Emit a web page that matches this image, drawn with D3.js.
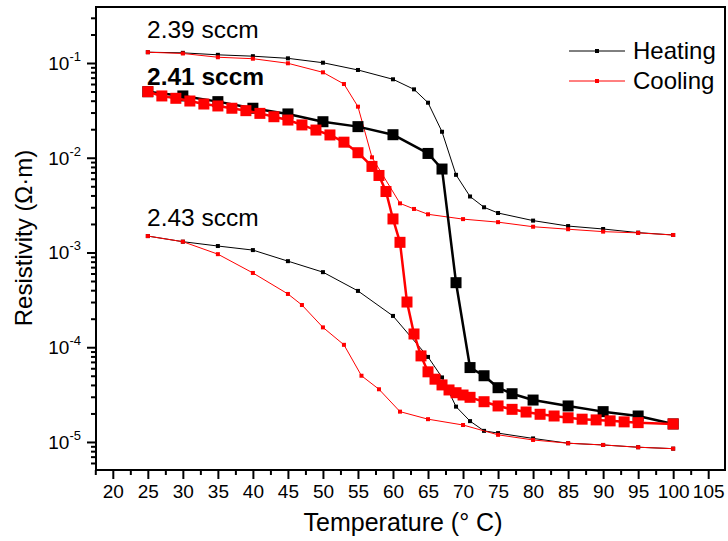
<!DOCTYPE html>
<html>
<head>
<meta charset="utf-8">
<script src="https://cdn.jsdelivr.net/npm/d3@7"></script>
<style>
  body { margin: 0; background: #fff; }
  text { font-family: "Liberation Sans", Arial, sans-serif; fill: #000; }
</style>
</head>
<body>
<svg id="chart" width="728" height="541"></svg>
<script>
// 2.39 sccm
const heat239T = [25, 30, 35, 40, 45, 50, 55, 60, 63, 65, 67, 69, 71, 73, 75, 80, 85, 90, 95, 100];
const heat239R = [0.130, 0.128, 0.122, 0.118, 0.112, 0.1007, 0.0844, 0.0673, 0.0527, 0.0381, 0.0188, 0.0066, 0.0039, 0.0030, 0.00261, 0.00217, 0.0019, 0.00177, 0.00162, 0.00153];
const cool239T = [25, 30, 35, 40, 45, 50, 53, 55, 57, 61, 63, 65, 70, 75, 80, 85, 90, 95, 100];
const cool239R = [0.130, 0.126, 0.115, 0.111, 0.0993, 0.0797, 0.060, 0.0346, 0.0101, 0.0033, 0.00288, 0.00253, 0.00225, 0.00209, 0.00187, 0.00176, 0.00166, 0.00161, 0.00153];

// 2.41 sccm
const heat241T = [25, 30, 35, 40, 45, 50, 55, 60, 65, 67, 69, 71, 73, 75, 77, 80, 85, 90, 95, 100];
const heat241R = [0.0498, 0.0449, 0.0391, 0.0333, 0.029, 0.024, 0.0213, 0.0175, 0.0111, 0.0076, 4.8e-4, 6.1e-5, 5.0e-5, 3.74e-5, 3.23e-5, 2.77e-5, 2.4e-5, 2.09e-5, 1.88e-5, 1.55e-5];
const cool241T = [25, 27, 29, 31, 33, 35, 37, 39, 41, 43, 45, 47, 49, 51, 53, 55, 57, 58, 59, 60, 61, 62, 63, 64, 65, 66, 67, 68, 69, 70, 71, 73, 75, 77, 79, 81, 83, 85, 87, 89, 91, 93, 95, 100];
const cool241R = [0.0498, 0.0449, 0.0424, 0.0397, 0.0369, 0.0352, 0.0333, 0.0314, 0.0294, 0.0271, 0.025, 0.0222, 0.0196, 0.0174, 0.0146, 0.0113, 0.0081, 0.0065, 0.0044, 0.00226, 0.00128, 3.0e-4, 1.38e-4, 8.1e-5, 5.5e-5, 4.6e-5, 4.0e-5, 3.54e-5, 3.31e-5, 3.13e-5, 2.96e-5, 2.66e-5, 2.4e-5, 2.21e-5, 2.07e-5, 1.96e-5, 1.88e-5, 1.80e-5, 1.74e-5, 1.71e-5, 1.67e-5, 1.63e-5, 1.60e-5, 1.55e-5];

// 2.43 sccm
const heat243T = [25, 30, 35, 40, 45, 50, 55, 60, 65, 67, 69, 71, 73, 75, 80, 85, 90, 95, 100];
const heat243R = [1.49e-3, 1.3e-3, 1.17e-3, 1.06e-3, 8.1e-4, 6.2e-4, 3.93e-4, 2.14e-4, 7.9e-5, 4.8e-5, 2.36e-5, 1.66e-5, 1.31e-5, 1.24e-5, 1.09e-5, 9.7e-6, 9.3e-6, 8.8e-6, 8.5e-6];
const cool243T = [25, 30, 35, 40, 45, 47, 50, 53, 55.5, 58, 61, 65, 70, 75, 80, 85, 90, 95, 100];
const cool243R = [1.49e-3, 1.3e-3, 9.6e-4, 6.08e-4, 3.65e-4, 2.79e-4, 1.62e-4, 1.06e-4, 5.0e-5, 3.6e-5, 2.09e-5, 1.74e-5, 1.51e-5, 1.19e-5, 1.05e-5, 9.7e-6, 9.3e-6, 8.8e-6, 8.5e-6];

const xTicks = [20, 25, 30, 35, 40, 45, 50, 55, 60, 65, 70, 75, 80, 85, 90, 95, 100, 105];
const yTicks = [1e-1, 1e-2, 1e-3, 1e-4, 1e-5];
const yTickExp = ['-1', '-2', '-3', '-4', '-5'];
const legendLabels = ['Heating', 'Cooling'];
const legendColors = ['#000', '#ff0000'];

const svg = d3.select('#chart');
const plotLeft = 96, plotRight = 725, plotTop = 7, plotBottom = 470;

const x = d3.scaleLinear().domain([17.6, 107.4]).range([plotLeft, plotRight]);
const y = d3.scaleLog().domain([0.39, 5.06e-6]).range([plotTop, plotBottom]);

const zip = (t, r) => t.map((v, i) => ({ t: v, r: r[i] }));

const series = [
  { data: zip(heat239T, heat239R), color: '#000', width: 1, size: 4 },
  { data: zip(cool239T, cool239R), color: '#ff0000', width: 1, size: 4 },
  { data: zip(heat243T, heat243R), color: '#000', width: 1, size: 4 },
  { data: zip(cool243T, cool243R), color: '#ff0000', width: 1, size: 4 },
  { data: zip(heat241T, heat241R), color: '#000', width: 2.5, size: 11 },
  { data: zip(cool241T, cool241R), color: '#ff0000', width: 2.5, size: 11 }
];

// minor ticks
const minorX = d3.range(17.5, 107.5, 2.5).filter(v => v % 5 !== 0);
svg.append('g')
  .attr('transform', `translate(0,${plotBottom})`)
  .call(d3.axisBottom(x).tickValues(minorX).tickSize(5).tickFormat(''))
  .call(g => g.select('.domain').remove())
  .selectAll('line').attr('stroke-width', 2);

const minorY = [];
[-6, -5, -4, -3, -2, -1].forEach(e => {
  for (let k = 2; k <= 9; k++) {
    const v = k * Math.pow(10, e);
    if (v >= 5.06e-6 && v <= 0.39) minorY.push(v);
  }
});
svg.append('g')
  .attr('transform', `translate(${plotLeft},0)`)
  .call(d3.axisLeft(y).tickValues(minorY).tickSize(5).tickFormat(''))
  .call(g => g.select('.domain').remove())
  .selectAll('line').attr('stroke-width', 2);

// major ticks
const xAxis = svg.append('g')
  .attr('transform', `translate(0,${plotBottom})`)
  .call(d3.axisBottom(x).tickValues(xTicks).tickSize(9).tickPadding(6));
xAxis.select('.domain').remove();
xAxis.selectAll('line').attr('stroke-width', 2);
xAxis.selectAll('text')
  .style('font-size', '19px')
  .style('font-family', '"Liberation Sans", Arial, sans-serif');

const yAxis = svg.append('g')
  .attr('transform', `translate(${plotLeft},0)`)
  .call(d3.axisLeft(y).tickValues(yTicks).tickSize(9).tickFormat(''));
yAxis.select('.domain').remove();
yAxis.selectAll('line').attr('stroke-width', 2);

const yLab = svg.append('g').selectAll('text')
  .data(yTicks)
  .enter()
  .append('text')
  .attr('x', 81)
  .attr('y', d => y(d) + 7)
  .attr('text-anchor', 'end')
  .style('font-size', '19px');
yLab.append('tspan').text('10');
yLab.append('tspan')
  .attr('dy', -9)
  .style('font-size', '13px')
  .text((d, i) => yTickExp[i]);

// frame
svg.append('rect')
  .attr('x', plotLeft)
  .attr('y', plotTop)
  .attr('width', plotRight - plotLeft)
  .attr('height', plotBottom - plotTop)
  .attr('fill', 'none')
  .attr('stroke', '#000')
  .attr('stroke-width', 2);

// curves
const line = d3.line().x(d => x(d.t)).y(d => y(d.r));
series.forEach(s => {
  const g = svg.append('g');
  g.append('path')
    .datum(s.data)
    .attr('d', line)
    .attr('fill', 'none')
    .attr('stroke', s.color)
    .attr('stroke-width', s.width)
    .attr('stroke-linejoin', 'round');
  g.selectAll('rect')
    .data(s.data)
    .enter()
    .append('rect')
    .attr('x', d => x(d.t) - s.size / 2)
    .attr('y', d => y(d.r) - s.size / 2)
    .attr('width', s.size)
    .attr('height', s.size)
    .attr('fill', s.color);
});

// annotations
const notes = [
  { text: '2.39 sccm', x: 147, y: 38, bold: false },
  { text: '2.41 sccm', x: 147, y: 85, bold: true },
  { text: '2.43 sccm', x: 147, y: 226, bold: false }
];
svg.selectAll('.note')
  .data(notes)
  .enter()
  .append('text')
  .attr('class', 'note')
  .attr('x', d => d.x)
  .attr('y', d => d.y)
  .style('font-size', '24.5px')
  .style('font-weight', d => d.bold ? 'bold' : 'normal')
  .text(d => d.text);

// legend
const legend = svg.append('g').selectAll('g')
  .data(legendLabels)
  .enter()
  .append('g')
  .attr('transform', (d, i) => `translate(569,${51 + i * 30})`);
legend.append('line')
  .attr('x1', 0).attr('x2', 56)
  .attr('stroke', (d, i) => legendColors[i])
  .attr('stroke-width', 1);
legend.append('rect')
  .attr('x', 26).attr('y', -2)
  .attr('width', 4).attr('height', 4)
  .attr('fill', (d, i) => legendColors[i]);
legend.append('text')
  .attr('x', 64)
  .attr('y', 8)
  .style('font-size', '24px')
  .text(d => d);

// axis titles
svg.append('text')
  .attr('x', 403)
  .attr('y', 531)
  .attr('text-anchor', 'middle')
  .style('font-size', '25px')
  .text('Temperature (° C)');

svg.append('text')
  .attr('transform', 'translate(32,238) rotate(-90)')
  .attr('text-anchor', 'middle')
  .style('font-size', '24px')
  .text('Resistivity (Ω·m)');
</script>
</body>
</html>
